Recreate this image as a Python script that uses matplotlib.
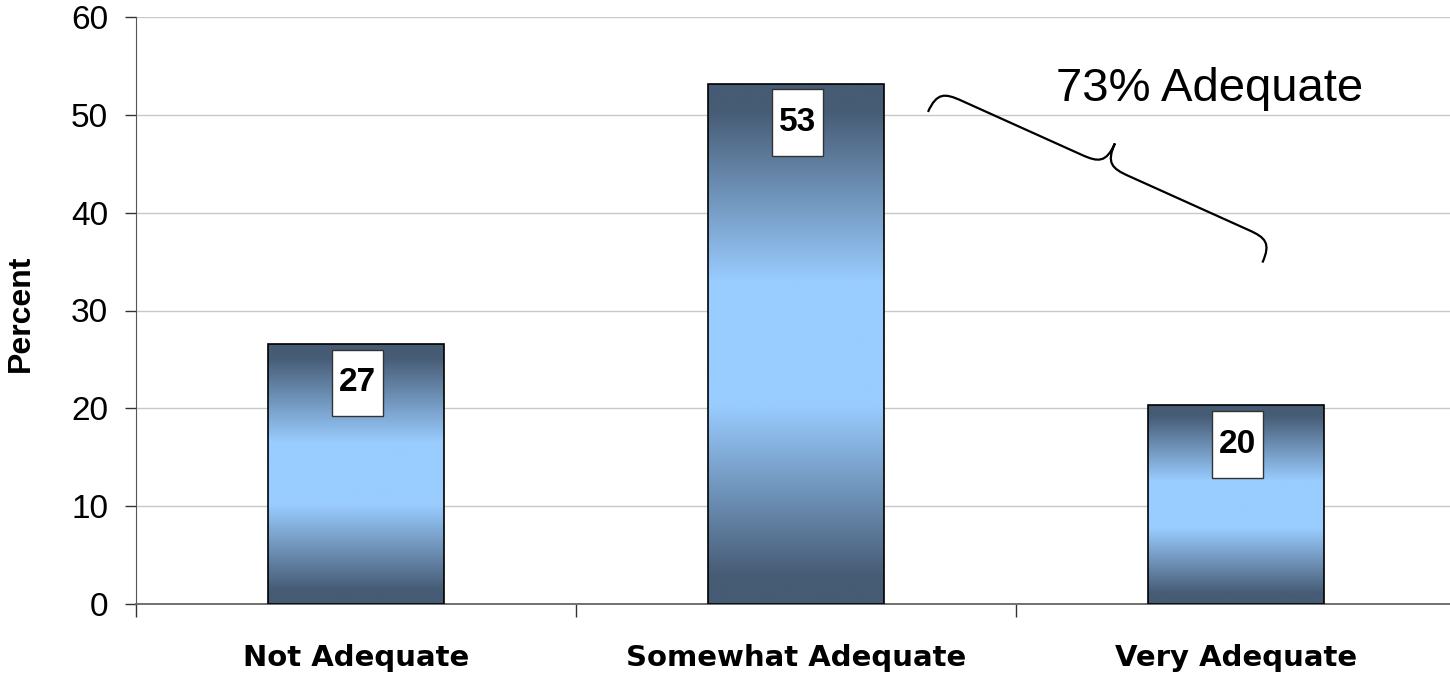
import numpy as np
import matplotlib
matplotlib.use("Agg")
import matplotlib.pyplot as plt
from matplotlib.colors import LinearSegmentedColormap
from matplotlib.patches import Rectangle
from matplotlib.path import Path
from matplotlib.patches import PathPatch

categories = ["Not Adequate", "Somewhat Adequate", "Very Adequate"]
values = [26.6, 53.2, 20.3]
value_labels = ["27", "53", "20"]
y_ticks = [0, 10, 20, 30, 40, 50, 60]
annotation_text = "73% Adequate"

plt.rcParams['font.family'] = ['Liberation Sans', 'DejaVu Sans']

fig = plt.figure(figsize=(14.5, 6.75), dpi=100)
ax = fig.add_axes([136/1450, 1-604/675, 1320/1450, (604-17)/675])

dark = "#465B74"
light = "#99CCFF"
cmap = LinearSegmentedColormap.from_list(
    "barg", [(0, dark), (0.05, dark), (0.38, light), (0.62, light), (0.95, dark), (1, dark)])

x = np.arange(len(categories))
bw = 0.4
grad = np.linspace(0, 1, 256).reshape(-1, 1)

ax.set_xlim(-0.5, 2.5)
ax.set_ylim(0, 60)
ax.set_yticks(y_ticks)
ax.yaxis.grid(True, color="#c8c8c8", linewidth=1)
ax.set_axisbelow(True)

for xi, v, lab in zip(x, values, value_labels):
    rect = Rectangle((xi - bw/2, 0), bw, v, facecolor="none", edgecolor="black", linewidth=1.2, zorder=3)
    ax.add_patch(rect)
    im = ax.imshow(grad, cmap=cmap, aspect="auto", extent=[xi - bw/2, xi + bw/2, 0, v],
                   origin="upper", zorder=2, interpolation="bilinear")
    im.set_clip_path(rect)
    bh = 6.8
    box = Rectangle((xi - 0.058 + 0.003, v - 0.6 - bh), 0.116, bh, facecolor="white",
                    edgecolor="#333333", linewidth=1, zorder=4)
    ax.add_patch(box)
    ax.text(xi + 0.003, v - 0.6 - bh/2, lab, ha="center", va="center", fontsize=24,
            fontweight="bold", zorder=5)

for s in ["top", "right"]:
    ax.spines[s].set_visible(False)
ax.spines["left"].set_color("#555555")
ax.spines["bottom"].set_color("#666666")
ax.spines["bottom"].set_linewidth(1.3)

ax.tick_params(axis="y", length=8, width=1, direction="out", pad=12, labelsize=24, color="#333333")
ax.set_xticks(x)
ax.set_xticklabels(categories, fontsize=21, fontweight="bold", family="DejaVu Sans")
ax.set_xticks([-0.5, 0.5, 1.5, 2.5], minor=True)
ax.tick_params(axis="x", which="major", length=0, pad=29)
ax.tick_params(axis="x", which="minor", length=9, width=1, direction="out", color="#333333")

fig.text(21/1450, 1-313/675, "Percent", rotation=90, ha="center", va="center",
         fontsize=23, fontweight="bold")

# curly brace annotation (built in pixel space, converted to data)
def brace(p0, p1, depth, ax):
    p0 = np.array(p0, float); p1 = np.array(p1, float)
    d = p1 - p0
    L = np.hypot(*d)
    u = d / L
    n = np.array([-u[1], u[0]])
    h = depth / 2
    r = 0.07
    pts_uv = [
        (0, 0),
        (0, h*0.9), (r*L*0.3, h), (r*L, h),
        (0.5*L - r*L, h),
        (0.5*L - r*L*0.3, h), (0.5*L, h*1.1), (0.5*L, 2*h),
        (0.5*L, h*1.1), (0.5*L + r*L*0.3, h), (0.5*L + r*L, h),
        (L - r*L, h),
        (L - r*L*0.3, h), (L, h*0.9), (L, 0),
    ]
    codes = [Path.MOVETO, Path.CURVE4, Path.CURVE4, Path.CURVE4, Path.LINETO,
             Path.CURVE4, Path.CURVE4, Path.CURVE4, Path.CURVE4, Path.CURVE4, Path.CURVE4,
             Path.LINETO, Path.CURVE4, Path.CURVE4, Path.CURVE4]
    disp = np.array([p0 + s*u + t*n for s, t in pts_uv])
    data = ax.transData.inverted().transform(disp)
    ax.add_patch(PathPatch(Path(data, codes), facecolor="none", edgecolor="black",
                           linewidth=1.6, zorder=6, clip_on=False))

fig.canvas.draw()
start = ax.transData.transform((1.30, 50.3))
end = ax.transData.transform((2.06, 34.9))
brace(start, end, 48, ax)

ax.text(1.94, 52.6, annotation_text, ha="center", va="center", fontsize=34, zorder=6)

fig.savefig("out.png", dpi=100)
